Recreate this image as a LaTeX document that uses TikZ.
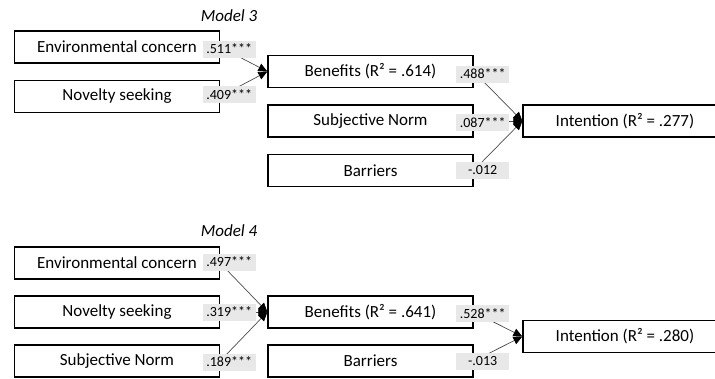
\documentclass[tikz,border=0pt]{standalone}
\usepackage{fontspec}
\setmainfont{Carlito}
\usetikzlibrary{arrows.meta}
\tikzset{
  varbox/.style={draw=black, line width=1.3pt, rectangle, minimum width=205pt, minimum height=32pt, inner sep=0pt, font=\fontsize{17}{20}\selectfont},
  lbl/.style={fill=black!9, minimum width=53pt, minimum height=17pt, inner sep=0pt, font=\fontsize{14}{16}\selectfont},
  ttl/.style={font=\fontsize{17}{20}\selectfont\itshape, inner sep=0pt},
  path/.style={draw=black!70, line width=0.7pt, -{Triangle[length=9pt,width=8pt,black]}}
}
\begin{document}
\begin{tikzpicture}[x=1pt,y=-1pt]
\useasboundingbox (0,0) rectangle (715,378);
\clip (0,0) rectangle (715,378);
% Model 3
\node[ttl] (t3) at (229,16) {Model 3};
\node[varbox] (env3) at (117,47) {Environmental concern};
\node[varbox] (nov3) at (117,96.5) {Novelty seeking};
\node[varbox] (ben3) at (370.5,71.5) {Benefits (R² = .614)};
\node[varbox] (sn3) at (370.5,121) {Subjective Norm};
\node[varbox] (bar3) at (370.5,170.5) {Barriers};
\node[varbox, minimum width=204pt] (int3) at (625,121) {Intention (R² = .277)};
\draw[path] (env3.east) -- (ben3.west);
\draw[path] (nov3.east) -- (ben3.west);
\draw[path] (ben3.east) -- (int3.west);
\draw[path] (sn3.east) -- (int3.west);
\draw[path] (bar3.east) -- (int3.west);
\node[lbl] (l31) at ([xshift=9pt,yshift=-2pt]env3.east) {.511***};
\node[lbl] (l32) at ([xshift=9pt,yshift=2pt]nov3.east) {.409***};
\node[lbl] (l33) at ([xshift=9pt,yshift=-2.5pt]ben3.east) {.488***};
\node[lbl] (l34) at ([xshift=9pt,yshift=-1.5pt]sn3.east) {.087***};
\node[lbl] (l35) at ([xshift=9pt]bar3.east) {-.012};
% Model 4
\node[ttl] (t4) at (229,231) {Model 4};
\node[varbox] (env4) at (117,263) {Environmental concern};
\node[varbox] (nov4) at (117,312) {Novelty seeking};
\node[varbox] (sn4) at (117,361) {Subjective Norm};
\node[varbox] (ben4) at (370.5,312) {Benefits (R² = .641)};
\node[varbox] (bar4) at (370.5,361) {Barriers};
\node[varbox, minimum width=204pt] (int4) at (625,336.5) {Intention (R² = .280)};
\draw[path] (env4.east) -- (ben4.west);
\draw[path] (nov4.east) -- (ben4.west);
\draw[path] (sn4.east) -- (ben4.west);
\draw[path] (ben4.east) -- (int4.west);
\draw[path] (bar4.east) -- (int4.west);
\node[lbl] (l41) at ([xshift=9pt,yshift=1pt]env4.east) {.497***};
\node[lbl] (l42) at ([xshift=9pt]nov4.east) {.319***};
\node[lbl] (l43) at ([xshift=9pt,yshift=-1pt]sn4.east) {.189***};
\node[lbl] (l44) at ([xshift=9pt,yshift=-1.5pt]ben4.east) {.528***};
\node[lbl] (l45) at ([xshift=9pt]bar4.east) {-.013};
\end{tikzpicture}
\end{document}
